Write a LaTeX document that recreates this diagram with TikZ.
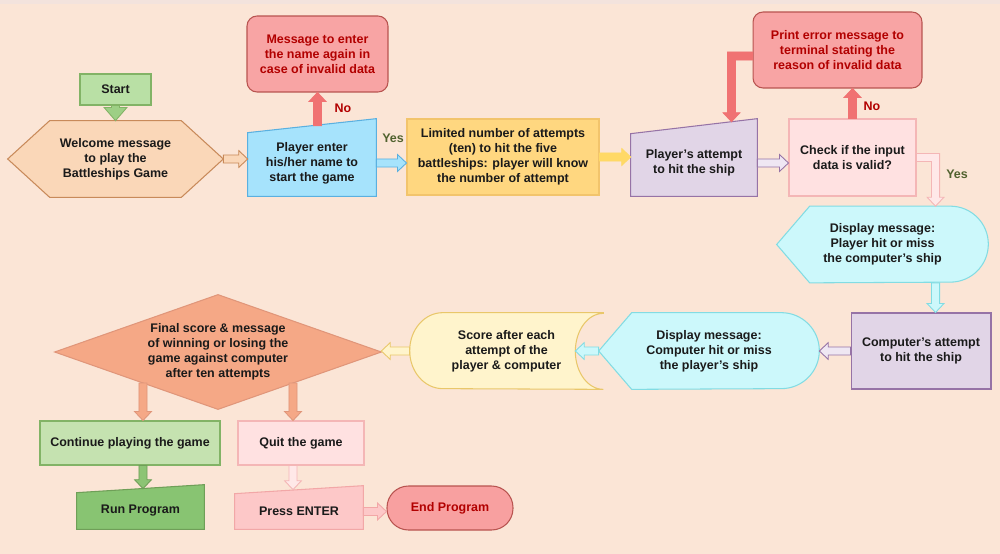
\documentclass[tikz,border=0pt]{standalone}
\usepackage{fontspec}
\setmainfont{Liberation Sans}
\usepackage{tikz}
\usetikzlibrary{calc,backgrounds,positioning}

\definecolor{bgpeach}{HTML}{FBE5D6}
\definecolor{bgtop}{HTML}{F3E3DD}
\definecolor{inktext}{HTML}{1A1A1A}
\definecolor{redtext}{HTML}{B20000}
\definecolor{yestext}{HTML}{51622F}
\definecolor{startfill}{HTML}{B9E0A5}
\definecolor{startline}{HTML}{82B366}
\definecolor{startarrow}{HTML}{9DCF85}
\definecolor{hexfill}{HTML}{FAD7B8}
\definecolor{hexline}{HTML}{C88A5A}
\definecolor{bluefill}{HTML}{A6E3FC}
\definecolor{blueline}{HTML}{5AB0E0}
\definecolor{redfill}{HTML}{F8A4A4}
\definecolor{redline}{HTML}{B85450}
\definecolor{redarrow}{HTML}{F07272}
\definecolor{yelfill}{HTML}{FFD780}
\definecolor{yelline}{HTML}{F2C46C}
\definecolor{yelarrow}{HTML}{FFD966}
\definecolor{purpfill}{HTML}{E1D5E7}
\definecolor{purpline}{HTML}{9673A6}
\definecolor{purparrow}{HTML}{EFE7F3}
\definecolor{pinkfill}{HTML}{FFE1E1}
\definecolor{pinkline}{HTML}{F4B6B6}
\definecolor{pinkarrow}{HTML}{FFE8E8}
\definecolor{cyanfill}{HTML}{CCF8FB}
\definecolor{cyanline}{HTML}{82DCE3}
\definecolor{scorefill}{HTML}{FFF4CC}
\definecolor{scoreline}{HTML}{E9C76A}
\definecolor{salmonfill}{HTML}{F5A886}
\definecolor{salmonline}{HTML}{E0967A}
\definecolor{contfill}{HTML}{C5E2B0}
\definecolor{runfill}{HTML}{88C472}
\definecolor{runline}{HTML}{6F9F58}
\definecolor{runarrow}{HTML}{8CC474}
\definecolor{pressfill}{HTML}{FDC8C8}
\definecolor{pressline}{HTML}{F2A7A7}
\definecolor{endfill}{HTML}{F8A0A0}

\newcommand{\boxfont}{\bfseries\fontsize{7.1}{8.6}\selectfont}

% block arrow sizes (pt): shaft half width, head half width, head length
\def\aw{2.3}\def\ah{4.8}\def\al{5.1}

% straight block arrow between two points
\newcommand{\flexarrow}[3]{%
  \path[#1] let \p1=#2, \p2=#3,
    \n1={atan2(\y2-\y1,\x2-\x1)}, \n2={veclen(\x2-\x1,\y2-\y1)} in
    {[shift={(\p1)}, rotate=\n1]
    (0pt,{-\aw*1pt}) -- ({(\n2-\al)*1pt},{-\aw*1pt}) -- ({(\n2-\al)*1pt},{-\ah*1pt})
    -- ({\n2*1pt},0pt) -- ({(\n2-\al)*1pt},{\ah*1pt}) -- ({(\n2-\al)*1pt},{\aw*1pt})
    -- (0pt,{\aw*1pt}) -- cycle};}

% block arrow: sideways to a knee, then down
\newcommand{\flexelbow}[5]{%
  \path[#1] let \p1=#2, \p2=#3, \p3=#4 in
    ({\x1},{\y1+\aw*1pt}) -- ({\x2+#5*\aw*1pt},{\y1+\aw*1pt}) -- ({\x2+#5*\aw*1pt},{\y3+\al*1pt})
    -- ({\x2+#5*\ah*1pt},{\y3+\al*1pt}) -- ({\x2},{\y3}) -- ({\x2-#5*\ah*1pt},{\y3+\al*1pt})
    -- ({\x2-#5*\aw*1pt},{\y3+\al*1pt}) -- ({\x2-#5*\aw*1pt},{\y1-\aw*1pt}) -- ({\x1},{\y1-\aw*1pt}) -- cycle;}

% manual input: slanted top (left corner down, right corner up)
\newcommand{\manualshape}[4]{%
  \draw[#1] (#2.south west) -- (#2.south east) -- ($(#2.north east)+(0,-#4)$) -- ($(#2.north west)+(0,#3)$) -- cycle;}

% display: pointed left, round right
\newcommand{\displayshape}[2]{%
  \draw[#1] (#2.west) -- ($(#2.north west)+(33,0)$) -- ($(#2.north east)+(-38,0)$)
    arc[start angle=90, end angle=-90, x radius=0.76cm, y radius=0.76cm]
    -- ($(#2.south west)+(33,0)$) -- cycle;}

\begin{document}
\begin{tikzpicture}[x=0.02cm, y=-0.02cm,
  box/.style={rectangle, draw, line width=0.6pt, align=center, inner sep=0pt, text=inktext, font=\boxfont},
  roundbox/.style={box, rounded corners=0.2cm},
  shapetext/.style={rectangle, align=center, inner sep=0pt, text=inktext, font=\boxfont},
  shapeline/.style 2 args={fill=#1, draw=#2, line width=0.6pt},
  flexcol/.style 2 args={fill=#1, draw=#2, line width=0.5pt},
  nolabel/.style={font=\boxfont, text=redtext},
  yeslabel/.style={font=\boxfont, text=yestext}]

  \useasboundingbox (0,0) rectangle (1000,554);
  \begin{scope}[on background layer]
    \fill[bgpeach] (0,0) rectangle (1000,554);
    \fill[bgtop] (0,0) rectangle (1000,4);
  \end{scope}

  % top row
  \node[box, fill=startfill, draw=startline, minimum width=1.42cm, minimum height=0.62cm] (start) at (115.5,89.5) {Start};
  \node[shapetext, minimum width=4.30cm, minimum height=1.52cm] (welcome) at (115.5,159) {Welcome message\\to play the\\Battleships Game};
  \node[shapetext, minimum width=2.56cm, minimum height=1.32cm] (enter) at (312,163) {Player enter\\his/her name to\\start the game};
  \node[roundbox, fill=redfill, draw=redline, text=redtext, minimum width=2.82cm, minimum height=1.52cm] (msg1) at (317.5,54) {Message to enter\\the name again in\\case of invalid data};
  \node[box, fill=yelfill, draw=yelline, minimum width=3.84cm, minimum height=1.52cm] (limited) at (503,157) {Limited number of attempts\\(ten) to hit the five\\battleships: player will know\\the number of attempt};
  \node[shapetext, minimum width=2.52cm, minimum height=1.32cm] (patt) at (694,163) {Player’s attempt\\to hit the ship};
  \node[box, fill=pinkfill, draw=pinkline, minimum width=2.54cm, minimum height=1.54cm] (check) at (852.5,157.5) {Check if the input\\data is valid?};
  \node[roundbox, fill=redfill, draw=redline, text=redtext, minimum width=3.38cm, minimum height=1.52cm] (err) at (837.5,50) {Print error message to\\terminal stating the\\reason of invalid data};

  % middle rows
  \node[shapetext, minimum width=4.22cm, minimum height=1.52cm] (disp1) at (882.5,244.5) {Display message:\\Player hit or miss\\the computer’s ship};
  \node[box, fill=purpfill, draw=purpline, minimum width=2.80cm, minimum height=1.52cm] (catt) at (921,351) {Computer’s attempt\\to hit the ship};
  \node[shapetext, minimum width=4.40cm, minimum height=1.52cm] (disp2) at (709,351) {Display message:\\Computer hit or miss\\the player’s ship};
  \node[shapetext, minimum width=3.86cm, minimum height=1.52cm] (score) at (506.5,351) {Score after each\\attempt of the\\player \& computer};
  \node[shapetext, minimum width=6.52cm, minimum height=2.28cm] (final) at (218,352) {Final score \& message\\of winning or losing the\\game against computer\\after ten attempts};

  % bottom rows
  \node[box, fill=contfill, draw=startline, minimum width=3.60cm, minimum height=0.88cm] (cont) at (130,443) {Continue playing the game};
  \node[shapetext, minimum width=2.54cm, minimum height=0.72cm] (run) at (140.5,511) {Run Program};
  \node[box, fill=pinkfill, draw=pinkline, minimum width=2.52cm, minimum height=0.88cm] (quit) at (301,443) {Quit the game};
  \node[shapetext, minimum width=2.56cm, minimum height=0.70cm] (press) at (299,511.5) {Press ENTER};
  \node[box, fill=endfill, draw=redline, text=redtext, rounded corners=0.43cm, minimum width=2.52cm, minimum height=0.88cm] (endp) at (450,508) {End Program};

  % outlines of the drawn shapes
  \begin{scope}[on background layer]
    \draw[shapeline={hexfill}{hexline}] (welcome.west) -- ($(welcome.north west)+(42,0)$) -- ($(welcome.north east)+(-42,0)$)
      -- (welcome.east) -- ($(welcome.south east)+(-42,0)$) -- ($(welcome.south west)+(42,0)$) -- cycle;
    \manualshape{shapeline={bluefill}{blueline}}{enter}{3}{11}
    \manualshape{shapeline={purpfill}{purpline}}{patt}{4}{11}
    \manualshape{shapeline={runfill}{runline}}{run}{0}{8}
    \manualshape{shapeline={pressfill}{pressline}}{press}{0}{8}
    \displayshape{shapeline={cyanfill}{cyanline}}{disp1}
    \displayshape{shapeline={cyanfill}{cyanline}}{disp2}
    \draw[shapeline={scorefill}{scoreline}] (score.north east) -- ($(score.north west)+(33,0)$)
      arc[start angle=90, end angle=270, x radius=0.66cm, y radius=0.76cm]
      -- (score.south east) arc[start angle=270, end angle=90, x radius=0.56cm, y radius=0.76cm] -- cycle;
    \draw[shapeline={salmonfill}{salmonline}] (final.west) -- (final.north) -- (final.east) -- (final.south) -- cycle;
  \end{scope}

  % connectors
  {\def\ah{6.5}\def\al{7.5}\flexarrow{flexcol={startarrow}{startline}}{(start.south)}{(start.south |- welcome.north)}}
  \flexarrow{flexcol={hexfill}{hexline}}{(welcome.east)}{(welcome.east -| enter.west)}
  \flexarrow{flexcol={redarrow}{redarrow}}{($(msg1.south |- enter.north)+(0,-4)$)}{(msg1.south)}
  \flexarrow{flexcol={bluefill}{blueline}}{(enter.east)}{(enter.east -| limited.west)}
  \flexarrow{flexcol={yelarrow}{yelarrow}}{(limited.east)}{(limited.east -| patt.west)}
  \flexarrow{flexcol={purparrow}{purpline}}{(patt.east)}{(patt.east -| check.west)}
  \flexarrow{flexcol={redarrow}{redarrow}}{(check.north)}{(check.north |- err.south)}

  \coordinate (errknee) at ($(err.west)+(-21,6)$);
  \flexelbow{flexcol={redarrow}{redarrow}}{($(err.west)+(0,6)$)}{(errknee)}{($(errknee |- patt.north)+(0,-8)$)}{(-1)}
  \coordinate (yesknee) at ($(check.east)+(19,0)$);
  \flexelbow{flexcol={pinkarrow}{pinkline}}{(check.east)}{(yesknee)}{(yesknee |- disp1.north)}{1}

  \flexarrow{flexcol={cyanfill}{cyanline}}{(yesknee |- disp1.south)}{(yesknee |- catt.north)}
  \flexarrow{flexcol={purparrow}{purpline}}{(catt.west)}{(disp2.east)}
  \flexarrow{flexcol={cyanfill}{cyanline}}{(disp2.west)}{($(score.east)+(-28,0)$)}
  \flexarrow{flexcol={scorefill}{scoreline}}{(score.west)}{(score.west -| final.east)}

  \coordinate (dropl) at ($(final.center)+(-75,31)$);
  \coordinate (dropr) at ($(final.center)+(75,31)$);
  \flexarrow{flexcol={salmonfill}{salmonline}}{(dropl)}{(dropl |- cont.north)}
  \flexarrow{flexcol={salmonfill}{salmonline}}{(dropr)}{(dropr |- quit.north)}
  \flexarrow{flexcol={runarrow}{runline}}{(dropl |- cont.south)}{($(dropl |- run.north)+(0,-4)$)}
  \flexarrow{flexcol={pinkarrow}{pinkline}}{(dropr |- quit.south)}{($(dropr |- press.north)+(0,-4)$)}
  \flexarrow{flexcol={pressfill}{pressline}}{(press.east)}{(press.east -| endp.west)}

  % branch labels
  \node[nolabel] (noenter) at (343,108) {No};
  \node[yeslabel] (yesenter) at (393,138) {Yes};
  \node[nolabel] (nocheck) at (872,106) {No};
  \node[yeslabel] (yescheck) at (957,174) {Yes};
\end{tikzpicture}
\end{document}
